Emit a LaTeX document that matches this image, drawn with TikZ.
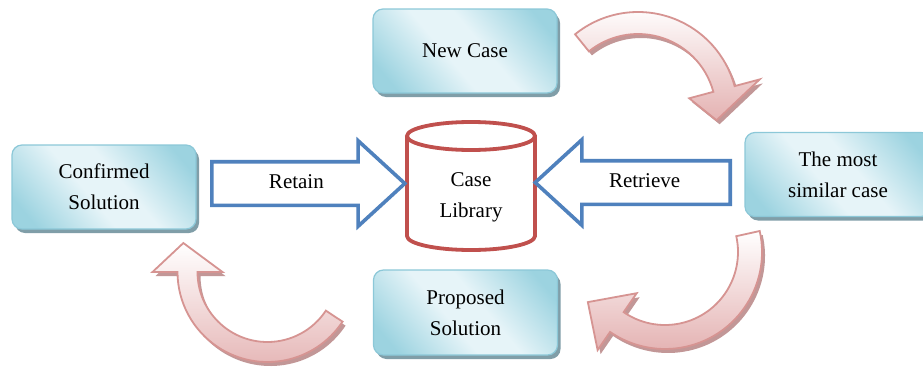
\documentclass[tikz,border=0pt]{standalone}
\usepackage{fontspec}
\setmainfont{Liberation Serif}
\usetikzlibrary{shapes.arrows,shadows}

\definecolor{boxedge}{RGB}{140,200,216}
\definecolor{boxdark}{RGB}{156,211,224}
\definecolor{boxlight}{RGB}{230,244,248}
\definecolor{boxshadow}{RGB}{128,158,168}
\definecolor{libred}{RGB}{192,80,77}
\definecolor{flowblue}{RGB}{79,129,189}
\definecolor{bendedge}{RGB}{214,148,146}
\definecolor{bendpink}{RGB}{228,178,178}
\definecolor{bendshadow}{RGB}{188,140,140}

\pgfdeclarehorizontalshading{boxshade}{100bp}{color(0bp)=(boxdark); color(22bp)=(boxdark); color(44bp)=(boxlight); color(56bp)=(boxlight); color(78bp)=(boxdark); color(100bp)=(boxdark)}

% bent arrow: centre, start, end, inner r, outer r, inner wing, outer wing, tip angle, tip r
\newcommand{\bentarrow}[9]{%
  \draw[bendarrow, shift={#1}] (#2:#5) arc[start angle=#2, end angle=#3, radius=#5]
    -- (#3:#7) -- (#8:#9) -- (#3:#6) -- (#3:#4)
    arc[start angle=#3, end angle=#2, radius=#4] -- cycle;}

\tikzset{
  labelfont/.style={font={\fontsize{21pt}{31pt}\selectfont}},
  casebox/.style={labelfont, rounded corners=10pt, draw=boxedge, line width=1.2pt,
    shading=boxshade, shading angle=40, minimum width=184pt, minimum height=84pt,
    align=center, drop shadow={shadow xshift=3pt, shadow yshift=-4pt, fill=boxshadow, opacity=1}},
  flowarrow/.style={labelfont, single arrow, draw=flowblue, line width=3.6pt, fill=white,
    single arrow head extend=21pt, single arrow tip angle=85, minimum height=193pt,
    text height=14pt, text depth=4pt, inner xsep=4pt, inner ysep=11pt},
  libline/.style={draw=libred, line width=3.8pt, fill=white},
  bendarrow/.style={draw=bendedge, line width=1.8pt, top color=white, bottom color=bendpink,
    line join=miter, drop shadow={shadow xshift=3pt, shadow yshift=-4pt, fill=bendshadow, opacity=.9}}
}

\begin{document}
\begin{tikzpicture}[x=1pt,y=1pt]
  \path[use as bounding box, fill=white] (0,0) rectangle (923,368);

  % the cycle
  \bentarrow{(638,256)}{129}{15}{78}{100}{53}{126}{-6}{79}
  \bentarrow{(665,116)}{12.5}{-124.5}{73}{97}{50}{119}{-147}{92}
  \bentarrow{(267.5,96)}{-33.5}{-180}{70}{90}{45}{115}{-199}{89}

  \node[casebox]                        (newcase)   at (465,317)    {New Case};
  \node[casebox, minimum width=186pt]   (similar)   at (838,193.5)  {The most\\similar case};
  \node[casebox]                        (confirmed) at (104,181)    {Confirmed\\Solution};
  \node[casebox, minimum height=85pt]   (proposed)  at (465.5,55.5) {Proposed\\Solution};

  % case library
  \draw[libline] (407,232) -- (407,132) arc[start angle=180, end angle=360, x radius=64, y radius=14] -- (535,232);
  \draw[libline] (471,232) ellipse[x radius=64, y radius=14];
  \node[labelfont, align=center] (library) at (471,171) {Case\\Library};

  \node[flowarrow, anchor=tail] (retain) at (210,184.5) {Retain};
  \node[flowarrow, shape border rotate=180, minimum height=195pt, anchor=tail] (retrieve) at (732,185.5) {Retrieve};
\end{tikzpicture}
\end{document}
